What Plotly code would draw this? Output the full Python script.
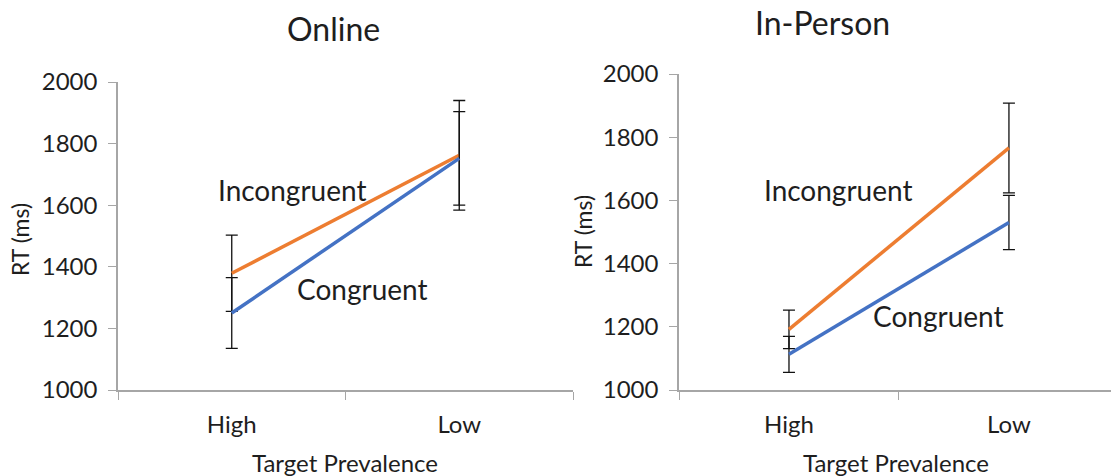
import plotly.graph_objects as go

# Reaction times (ms) by target prevalence, for each session type
prevalence = ["High", "Low"]

online_incongruent = [1379, 1762]
online_incongruent_err = [124, 178]
online_congruent = [1250, 1752]
online_congruent_err = [115, 152]

inperson_incongruent = [1192, 1766]
inperson_incongruent_err = [61, 142]
inperson_congruent = [1113, 1530]
inperson_congruent_err = [57, 86]

panel_titles = ["Online", "In-Person"]
y_ticks = [1000, 1200, 1400, 1600, 1800, 2000]

ORANGE = "#ED7D31"
BLUE = "#4472C4"
TEXT = "#1e1e1e"
AXIS = "#a6a6a6"
FONT = "Lato"

W, H = 1111, 476


def px_x(v):
    return v / W


def px_y(v):
    return 1 - v / H


fig = go.Figure()


def add_series(y, err, color, xa, ya):
    fig.add_trace(go.Scatter(
        x=prevalence, y=y, mode="lines",
        line=dict(color=color, width=3.5),
        error_y=dict(type="data", array=err, visible=True,
                     color="#111111", thickness=1.3, width=6),
        xaxis=xa, yaxis=ya, showlegend=False, hoverinfo="skip",
    ))


add_series(online_incongruent, online_incongruent_err, ORANGE, "x", "y")
add_series(online_congruent, online_congruent_err, BLUE, "x", "y")
add_series(inperson_incongruent, inperson_incongruent_err, ORANGE, "x2", "y2")
add_series(inperson_congruent, inperson_congruent_err, BLUE, "x2", "y2")

xcommon = dict(
    type="category", categoryorder="array", categoryarray=prevalence,
    showline=True, linecolor=AXIS, linewidth=1.5,
    ticks="outside", tickson="boundaries", ticklen=8, tickcolor=AXIS, tickwidth=1.3,
    showgrid=False, zeroline=False, automargin=False,
    tickfont=dict(family=FONT, size=24, color=TEXT), ticklabelstandoff=12,
    fixedrange=True,
)
ycommon = dict(
    range=[1000, 2000], tickvals=y_ticks,
    showline=True, linecolor=AXIS, linewidth=1.5,
    ticks="outside", ticklen=8, tickcolor=AXIS, tickwidth=1.3,
    showgrid=False, zeroline=False, automargin=False,
    tickfont=dict(family=FONT, size=24, color=TEXT), ticklabelstandoff=6,
    fixedrange=True,
)

fig.update_layout(
    width=W, height=H, autosize=False,
    margin=dict(l=0, r=0, t=0, b=0, pad=0),
    paper_bgcolor="white", plot_bgcolor="white",
    xaxis=dict(xcommon, domain=[px_x(118), px_x(573)], range=[-0.5, 1.5], anchor="y"),
    yaxis=dict(ycommon, domain=[px_y(390), px_y(82)], anchor="x"),
    xaxis2=dict(xcommon, domain=[px_x(679), 1.0], range=[-0.5, 1.464], anchor="y2"),
    yaxis2=dict(ycommon, domain=[px_y(390), px_y(74)], anchor="x2"),
)

annotations = []


def label(text, x, y, size=22, angle=0):
    annotations.append(dict(
        text=text, x=px_x(x), y=px_y(y), xref="paper", yref="paper",
        xanchor="center", yanchor="middle", showarrow=False, textangle=angle,
        font=dict(family=FONT, size=size, color=TEXT),
    ))


# panel titles
label(panel_titles[0], 333, 28, size=32)
label(panel_titles[1], 822, 22, size=32)

# axis titles
label("RT (ms)", 20, 240, size=23, angle=-90)
label("RT (ms)", 583, 232, size=23, angle=-90)
label("Target Prevalence", 345, 462, size=24)
label("Target Prevalence", 896, 462, size=24)

# series labels
label("Incongruent", 292, 190, size=28)
label("Congruent", 362, 289, size=28)
label("Incongruent", 838, 190, size=28)
label("Congruent", 938, 316, size=28)

fig.update_layout(annotations=annotations)

fig.write_html("out.html")
